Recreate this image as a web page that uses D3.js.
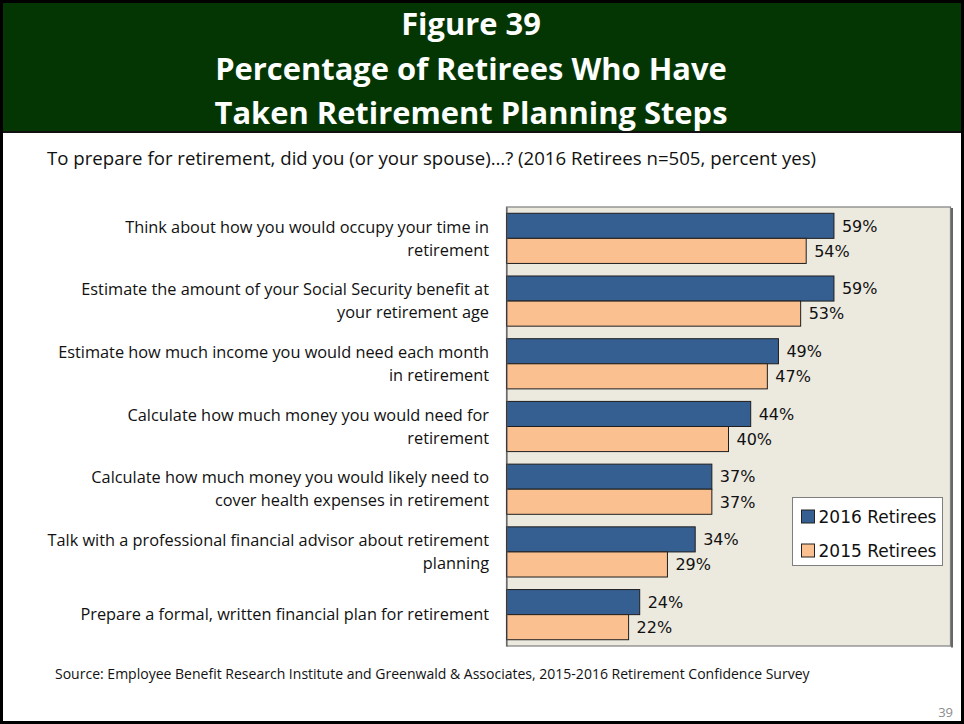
<!DOCTYPE html>
<html>
<head>
<meta charset="utf-8">
<script src="https://cdn.jsdelivr.net/npm/d3@7"></script>
<style>
  body { margin: 0; background: #fff; }
  svg { display: block; }
</style>
</head>
<body>
<script>
const titleLines = ["Figure 39", "Percentage of Retirees Who Have", "Taken Retirement Planning Steps"]
const subtitle = "To prepare for retirement, did you (or your spouse)…? (2016 Retirees n=505, percent yes)"
const source = "Source:  Employee Benefit Research Institute and Greenwald & Associates, 2015-2016 Retirement Confidence Survey"
const pageNo = "39"

const categories = [
  ["Think about how you would occupy your time in", "retirement"],
  ["Estimate the amount of your Social Security benefit at", "your retirement age"],
  ["Estimate how much income you would need each month", "in retirement"],
  ["Calculate how much money you would need for", "retirement"],
  ["Calculate how much money you would likely need to", "cover health expenses in retirement"],
  ["Talk with a professional financial advisor about retirement", "planning"],
  ["Prepare a formal, written financial plan for retirement"]
]
const seriesNames = ["2016 Retirees", "2015 Retirees"]
const retirees2016 = [59, 59, 49, 44, 37, 34, 24]
const retirees2015 = [54, 53, 47, 40, 37, 29, 22]
const colors = ["#365f91", "#fac090"]

const W = 964, H = 724
const plot = { l: 506.5, r: 950.5, t: 207, b: 646 }
const labelFont = "'Open Sans', sans-serif"
const numFont = "'DejaVu Sans', sans-serif"

const svg = d3.select("body").append("svg")
  .attr("width", W)
  .attr("height", H)

// squeeze a text to a wanted width by changing its font size
const fit = (sel, width) => sel.each(function () {
  const w = this.getComputedTextLength()
  const fs = +d3.select(this).attr("font-size")
  d3.select(this).attr("font-size", fs * width / w)
})

// page frame + header
svg.append("rect").attr("x", 1.5).attr("y", 1.5).attr("width", W - 3).attr("height", H - 3)
  .attr("fill", "#fff").attr("stroke", "#000").attr("stroke-width", 3)
svg.append("rect").attr("x", 3).attr("y", 3).attr("width", W - 6).attr("height", 128)
  .attr("fill", "#033603")
svg.append("line").attr("x1", 3).attr("x2", W - 3).attr("y1", 132).attr("y2", 132)
  .attr("stroke", "#111").attr("stroke-width", 2)

const titles = svg.append("g").selectAll("text")
  .data(titleLines)
  .enter()
  .append("text")
  .attr("x", 471)
  .attr("y", (d, i) => 35 + i * 44.5)
  .attr("text-anchor", "middle")
  .attr("fill", "#fff")
  .attr("font-family", labelFont)
  .attr("font-weight", "bold")
  .attr("font-size", 30)
  .text(d => d)
fit(titles.filter((d, i) => i == 1), 512)
titles.attr("font-size", titles.filter((d, i) => i == 1).attr("font-size"))

svg.append("text")
  .attr("x", 47).attr("y", 165)
  .attr("font-family", labelFont).attr("font-size", 18).attr("fill", "#111")
  .text(subtitle)
  .call(fit, 770)

// scales
const x = d3.scaleLinear().domain([0, 80]).range([plot.l, plot.r])
const y = d3.scaleBand()
  .domain(d3.range(categories.length))
  .range([plot.t, plot.b])
  .paddingInner(0.2)
  .paddingOuter(0.1)
const ySeries = d3.scaleBand().domain(seriesNames).range([0, y.bandwidth()])

// plot area
svg.append("line").attr("x1", plot.r + 1.5).attr("x2", plot.r + 1.5).attr("y1", plot.t + 1).attr("y2", plot.b + 1.5)
  .attr("stroke", "#666").attr("stroke-width", 2)
svg.append("rect")
  .attr("x", plot.l).attr("y", plot.t)
  .attr("width", plot.r - plot.l).attr("height", plot.b - plot.t)
  .attr("fill", "#ece9df").attr("stroke", "#7f7f7f").attr("stroke-width", 1.2)

const bars = [retirees2016, retirees2015]
const groups = svg.append("g").selectAll("g")
  .data(categories)
  .enter()
  .append("g")
  .attr("transform", (d, i) => `translate(0, ${y(i)})`)

groups.selectAll("rect")
  .data((d, i) => seriesNames.map((s, j) => ({ s, v: bars[j][i], c: colors[j] })))
  .enter()
  .append("rect")
  .attr("x", x(0))
  .attr("y", d => ySeries(d.s))
  .attr("width", d => x(d.v) - x(0))
  .attr("height", ySeries.bandwidth())
  .attr("fill", d => d.c)
  .attr("stroke", "#1e1e1e")
  .attr("stroke-width", 1)

groups.selectAll("text.val")
  .data((d, i) => seriesNames.map((s, j) => ({ s, v: bars[j][i] })))
  .enter()
  .append("text")
  .attr("class", "val")
  .attr("x", d => x(d.v) + 8)
  .attr("y", d => ySeries(d.s) + ySeries.bandwidth() / 2)
  .attr("dy", "0.36em")
  .attr("font-family", numFont)
  .attr("font-size", 16)
  .attr("fill", "#111")
  .text(d => d.v + "%")

// left axis line
svg.append("g")
  .attr("transform", `translate(${plot.l}, 0)`)
  .call(d3.axisLeft(y).tickSize(0).tickFormat(""))
  .call(g => g.select(".domain").attr("stroke", "#555"))

// category labels (size set from the first line's width)
const probe = svg.append("text").attr("font-family", labelFont).attr("font-size", 16)
  .text(categories[0][0]).call(fit, 364)
const labelSize = probe.attr("font-size")
probe.remove()

groups.append("text")
  .attr("text-anchor", "end")
  .attr("font-family", labelFont)
  .attr("font-size", labelSize)
  .attr("fill", "#111")
  .selectAll("tspan")
  .data(d => d.map((line, k) => ({ line, k, n: d.length })))
  .enter()
  .append("tspan")
  .attr("x", 489)
  .attr("y", d => y.bandwidth() / 2 + (d.k - (d.n - 1) / 2) * 23)
  .attr("dy", "0.35em")
  .text(d => d.line)

// legend
const legend = svg.append("g").attr("transform", "translate(792.5, 497.5)")
legend.append("rect").attr("width", 150).attr("height", 68)
  .attr("fill", "#fff").attr("stroke", "#7f7f7f")
const li = legend.selectAll("g").data(seriesNames).enter().append("g")
  .attr("transform", (d, i) => `translate(9, ${19 + i * 34})`)
li.append("rect").attr("x", 0).attr("y", -6.5).attr("width", 13).attr("height", 13)
  .attr("fill", (d, i) => colors[i]).attr("stroke", "#222")
li.append("text").attr("x", 17).attr("dy", "0.36em")
  .attr("font-family", numFont).attr("font-size", 17).attr("fill", "#111")
  .text(d => d)

// source + page number
svg.append("text").attr("x", 55).attr("y", 679)
  .attr("font-family", labelFont).attr("font-size", 13).attr("fill", "#111")
  .text(source)
  .call(fit, 755)
svg.append("text").attr("x", 953).attr("y", 717).attr("text-anchor", "end")
  .attr("font-family", labelFont).attr("font-size", 13).attr("fill", "#8c8c8c")
  .text(pageNo)
</script>
</body>
</html>
